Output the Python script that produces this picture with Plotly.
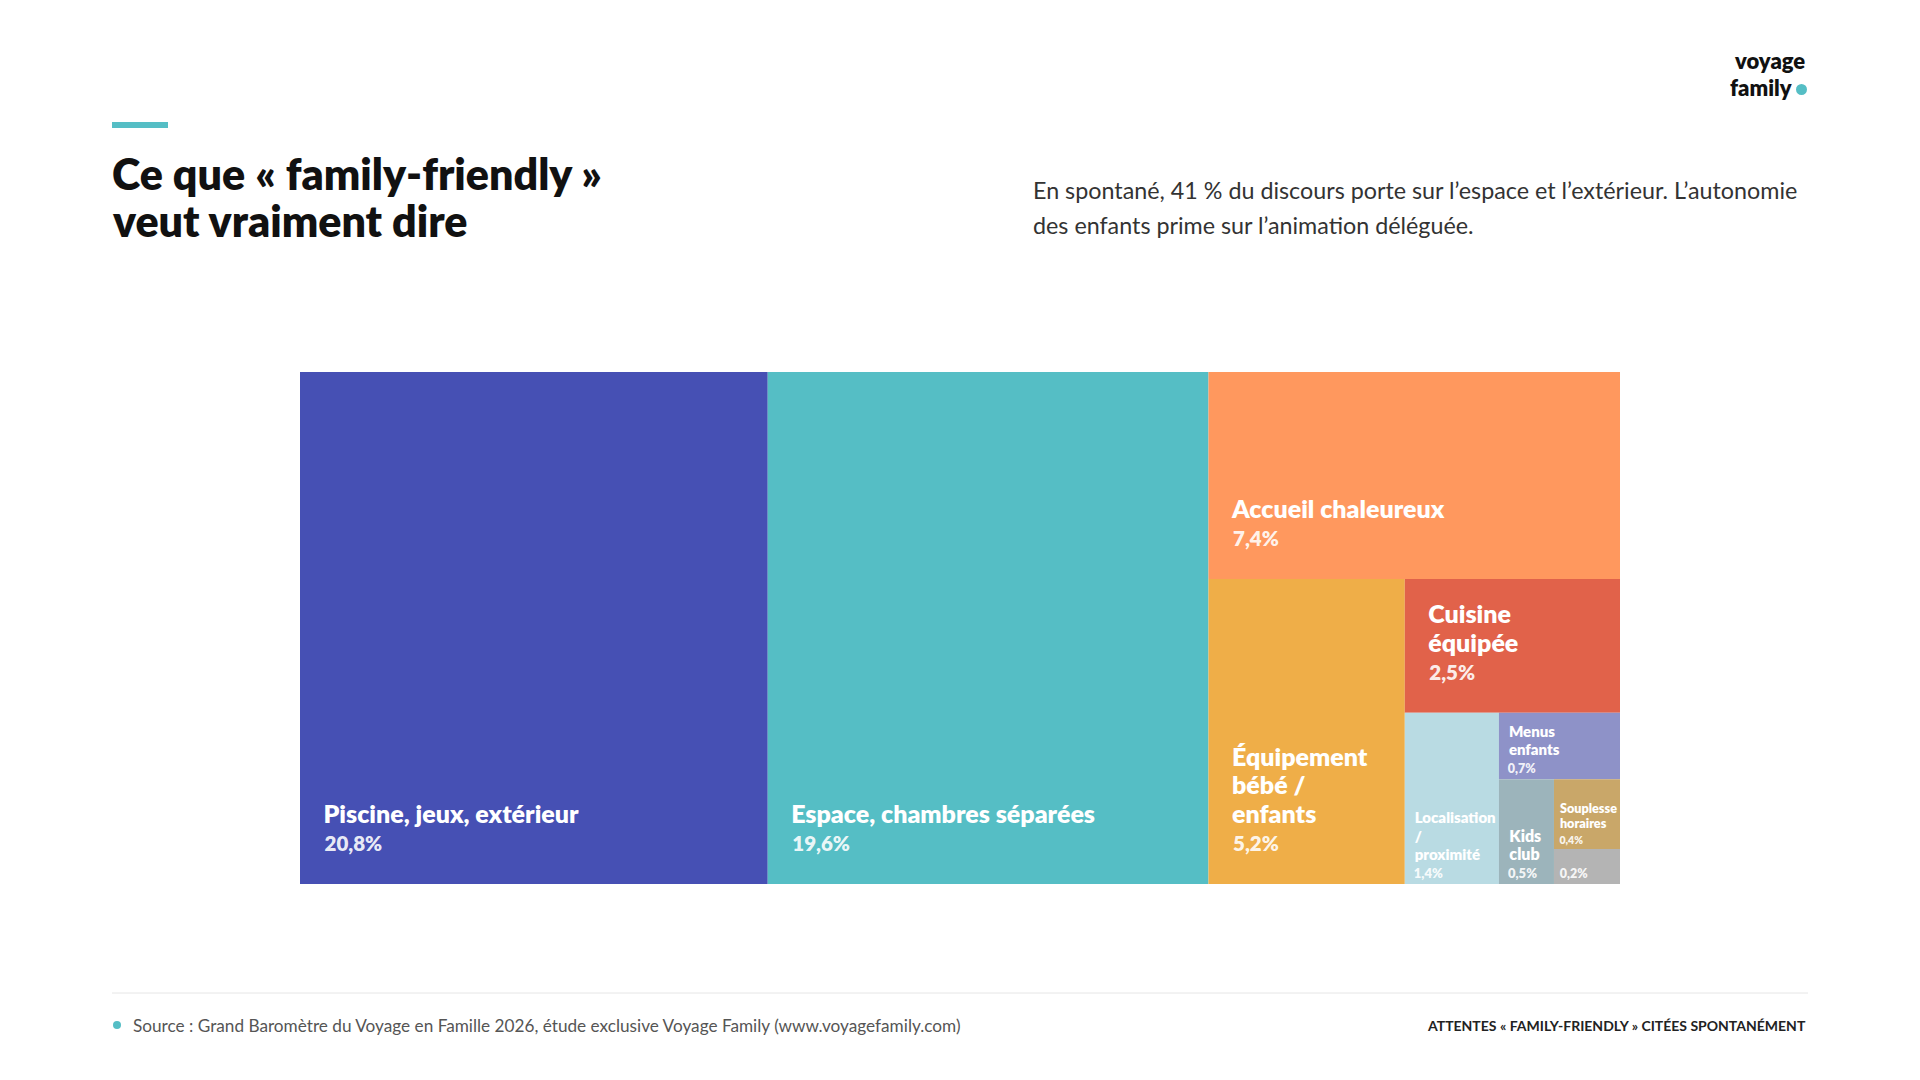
import plotly.graph_objects as go

# ---- data ----
categories = ["Piscine, jeux, extérieur", "Espace, chambres séparées", "Accueil chaleureux",
              "Équipement bébé / enfants", "Cuisine équipée", "Localisation / proximité",
              "Menus enfants", "Kids club", "Souplesse horaires", "Autre"]
display_names = ["Piscine, jeux, extérieur", "Espace, chambres séparées", "Accueil chaleureux",
                 "Équipement<br>bébé /<br>enfants", "Cuisine<br>équipée", "Localisation<br>/<br>proximité",
                 "Menus<br>enfants", "Kids<br>club", "Souplesse<br>horaires", ""]
values = [20.8, 19.6, 7.4, 5.2, 2.5, 1.4, 0.7, 0.5, 0.4, 0.2]

# ---- styles ----
colors = ["#4650B4", "#55BEC5", "#FF985E", "#EFAE48", "#E1624A", "#B9DBE3",
          "#8E92C8", "#9CB4BB", "#C9A769", "#B4B4B4"]
base_sizes = [22, 22, 22, 22, 22, 14, 14, 14, 14, 14]
name_sizes = [25, 25, 25, 25, 25, 15, 15, 16, 15, 14]
pct_sizes = [20.5, 20.5, 20.5, 20.5, 20.5, 13, 12.5, 13, 12.5, 12.5]
name_pads = [3, 3, 3, 3, 3, 2, 2, 2, 1, 1]
pct_pads = [4, 4, 4, 4, 4, 2, 2, 2, 1, 1]
trailing = [True, True, True, True, True, False, False, False, False, False]

FONT = "Lato"
THIN = "\u2009"

def fmt(v):
    return f"{v:.1f}".replace(".", ",") + "%"

texts = []
for name, v, ns, ps, npd, ppd, tr in zip(display_names, values, name_sizes, pct_sizes,
                                         name_pads, pct_pads, trailing):
    extra = THIN if tr else ""
    lines = []
    if name:
        for part in name.split("<br>"):
            lines.append(f"<span style='font-size:{ns}px'>{'&nbsp;' * npd}{extra}{part}</span>")
    lines.append(f"<span style='font-size:{ps}px;color:rgba(255,255,255,0.9)'>{'&nbsp;' * ppd}{extra}{fmt(v)}</span>")
    if tr:
        lines.append("<span style='font-size:4px'>&nbsp;</span>")
    texts.append("<br>".join(lines))

W, H = 1920, 1080
x0, x1 = 300, 1620
y0, y1 = 372, 884

fig = go.Figure(go.Treemap(
    labels=categories,
    parents=[""] * len(categories),
    values=values,
    text=texts,
    textinfo="text",
    textposition="bottom left",
    textfont=dict(family=FONT, size=base_sizes, color="white", weight=800),
    marker=dict(colors=colors, line=dict(width=0), pad=dict(t=0, l=0, r=0, b=0)),
    tiling=dict(packing="squarify", pad=0),
    pathbar=dict(visible=False),
    hoverinfo="skip",
    sort=True,
    domain=dict(x=[x0 / W, x1 / W], y=[1 - y1 / H, 1 - y0 / H]),
))

ann = []
shapes = []

def px(x):
    return x / W

def py(y):
    return 1 - y / H

def add_text(text, x, y, size, color, xanchor="left", yanchor="middle", weight=400):
    ann.append(dict(text=text, x=px(x), y=py(y), xref="paper", yref="paper",
                    xanchor=xanchor, yanchor=yanchor, showarrow=False, align="left",
                    font=dict(family=FONT, size=size, color=color, weight=weight)))

# accent bar
shapes.append(dict(type="rect", xref="paper", yref="paper", x0=px(112), x1=px(168),
                   y0=py(128), y1=py(122), fillcolor="#55BEC5", line=dict(width=0), layer="above"))
# title
add_text("Ce que « family-friendly »", 110, 174, 43, "#111111", weight=800)
add_text("veut vraiment dire", 110, 221, 43, "#111111", weight=800)
# subtitle
add_text("En spontané, 41 % du discours porte sur l’espace et l’extérieur. L’autonomie", 1031, 190, 23.3, "#333333")
add_text("des enfants prime sur l’animation déléguée.", 1031, 225, 23.3, "#333333")
# logo
add_text("voyage", 1807, 61, 22, "#111111", xanchor="right", weight=800)
add_text("family", 1794, 87, 22, "#111111", xanchor="right", weight=800)
shapes.append(dict(type="circle", xref="paper", yref="paper", x0=px(1796), x1=px(1807),
                   y0=py(95), y1=py(84), fillcolor="#55BEC5", line=dict(width=0)))
# footer
shapes.append(dict(type="line", xref="paper", yref="paper", x0=px(112), x1=px(1808),
                   y0=py(993), y1=py(993), line=dict(color="#E6E6E6", width=1)))
shapes.append(dict(type="circle", xref="paper", yref="paper", x0=px(113), x1=px(121),
                   y0=py(1029), y1=py(1021), fillcolor="#55BEC5", line=dict(width=0)))
add_text("Source : Grand Baromètre du Voyage en Famille 2026, étude exclusive Voyage Family (www.voyagefamily.com)",
         131, 1025, 17.2, "#555555")
add_text("ATTENTES « FAMILY-FRIENDLY » CITÉES SPONTANÉMENT", 1808, 1025, 14, "#222222",
         xanchor="right", weight=700)

fig.update_layout(
    width=W, height=H,
    margin=dict(l=0, r=0, t=0, b=0),
    paper_bgcolor="white",
    plot_bgcolor="white",
    annotations=ann,
    shapes=shapes,
    showlegend=False,
)

fig.write_html("out.html")
